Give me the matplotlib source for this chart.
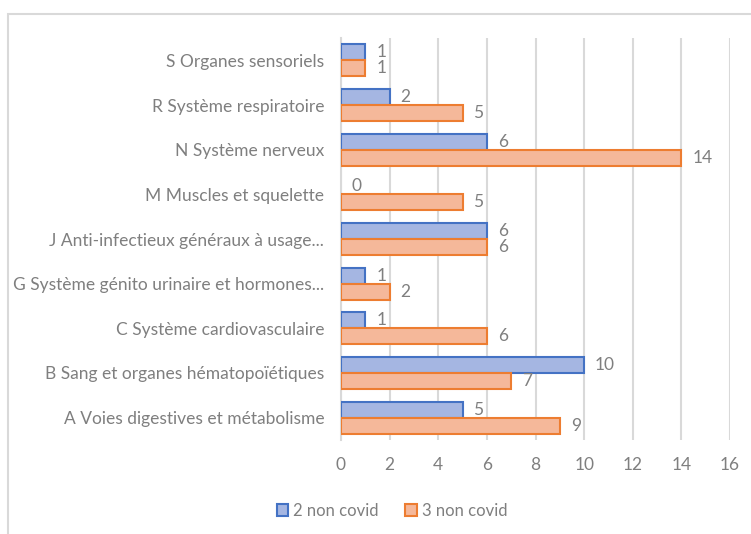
import matplotlib.pyplot as plt
import matplotlib.patches as patches
import numpy as np

categories = [
    'A Voies digestives et métabolisme',
    'B Sang et organes hématopoïétiques',
    'C Système cardiovasculaire',
    'G Système génito urinaire et hormones...',
    'J Anti-infectieux généraux à usage...',
    'M Muscles et squelette',
    'N Système nerveux',
    'R Système respiratoire',
    'S Organes sensoriels',
]
non_covid_2 = [5, 10, 1, 1, 6, 0, 6, 2, 1]
non_covid_3 = [9, 7, 6, 2, 6, 5, 14, 5, 1]
xticks = [0, 2, 4, 6, 8, 10, 12, 14, 16]

plt.rcParams['font.family'] = ['Lato', 'DejaVu Sans']
txt = '#7f7f7f'
fs = 12.5

fig = plt.figure(figsize=(7.51, 5.34), dpi=100)
ax = fig.add_axes([341 / 751, 1 - 440 / 534, 389 / 751, 402 / 534])

y = np.arange(len(categories))
h = 0.36
lw2 = [1.5 if v > 0 else 0 for v in non_covid_2]
lw3 = [1.5 if v > 0 else 0 for v in non_covid_3]
ax.barh(y + h / 2, non_covid_2, height=h, color='#a5b6e2', edgecolor='#4472c4',
        linewidth=lw2, label='2 non covid', zorder=3)
ax.barh(y - h / 2, non_covid_3, height=h, color='#f5b89a', edgecolor='#ed7d31',
        linewidth=lw3, label='3 non covid', zorder=3)

for yi, v in zip(y, non_covid_2):
    ax.text(v + 0.45, yi + h / 2, str(v), va='center', ha='left', color=txt, fontsize=fs)
for yi, v in zip(y, non_covid_3):
    ax.text(v + 0.45, yi - h / 2, str(v), va='center', ha='left', color=txt, fontsize=fs)

ax.set_xlim(0, 16)
ax.set_ylim(-0.5, 8.5)
ax.set_xticks(xticks)
ax.set_yticks(y)
ax.set_yticklabels(categories)
ax.tick_params(axis='both', length=0, colors=txt, labelsize=fs)
ax.tick_params(axis='y', pad=12)
ax.tick_params(axis='x', pad=12)
ax.grid(axis='x', color='#d9d9d9', linewidth=1.5, zorder=0)
for s in ['top', 'right', 'bottom']:
    ax.spines[s].set_visible(False)
ax.spines['left'].set_color('#d9d9d9')
ax.spines['left'].set_linewidth(1.5)

ax.legend(loc='center', bbox_to_anchor=(392 / 751, 1 - 511 / 534),
          bbox_transform=fig.transFigure, ncol=2, frameon=False,
          fontsize=12, labelcolor=txt, handlelength=0.7, handleheight=0.7,
          handletextpad=0.3, columnspacing=1.6)

fig.patches.append(patches.Rectangle((8 / 751, -0.1), 2, 1 - 14 / 534 + 0.1,
                                     transform=fig.transFigure, fill=False,
                                     edgecolor='#d9d9d9', linewidth=1.5))

fig.savefig('out.png')
